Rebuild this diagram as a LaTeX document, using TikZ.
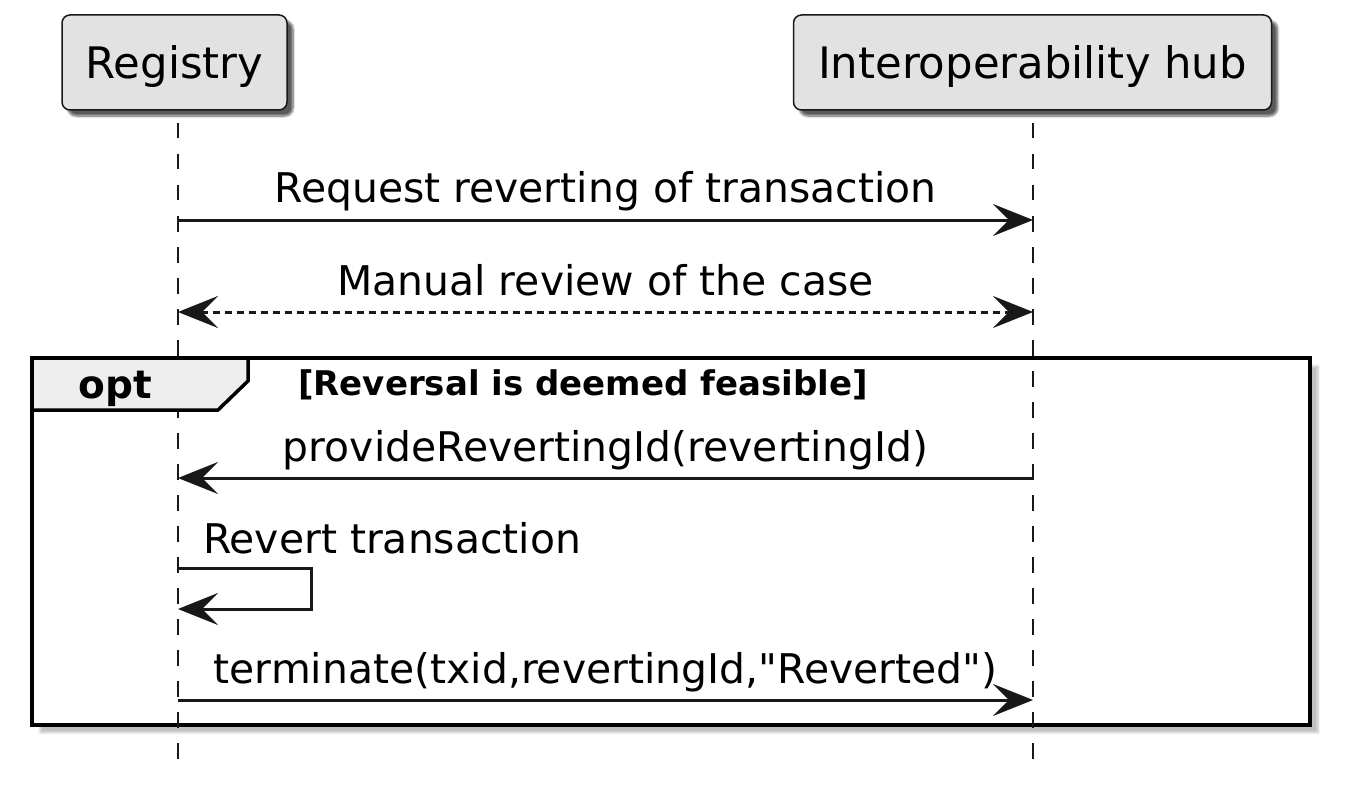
\documentclass[tikz,border=0pt]{standalone}
\usepackage{fontspec}
\setmainfont{DejaVu Sans}
\usepackage{tikz}
\usetikzlibrary{arrows.meta,positioning,shadows.blur}
\definecolor{linecol}{HTML}{181818}
\definecolor{boxfill}{HTML}{E2E2E2}
\definecolor{tabfill}{HTML}{EEEEEE}
\newcommand\dquote{\XeTeXglyph\XeTeXcharglyph"22\relax}
\tikzset{
  actor/.style={draw=linecol, fill=boxfill, line width=1.5pt, rounded corners=8pt,
    minimum height=95pt, inner sep=0pt, text height=40pt, text depth=7pt,
    font=\fontsize{43.4}{50}\selectfont,
    blur shadow={shadow xshift=6pt, shadow yshift=-6pt, shadow blur steps=8, shadow opacity=65}},
  lifeline/.style={draw=linecol, line width=1.5pt, dash pattern=on 15.5pt off 15.5pt},
  msg/.style={draw=linecol, line width=3pt,
    >={Stealth[length=40pt,width=32pt,inset=16pt]}},
  reply/.style={msg, dash pattern=on 7pt off 5pt},
  msgtext/.style={anchor=base, yshift=17pt, font=\fontsize{40.9}{48}\selectfont},
  frame/.style={draw=black, line width=4pt, fill=white,
    blur shadow={shadow xshift=8pt, shadow yshift=-8pt, shadow blur steps=6, shadow opacity=25}},
  opttab/.style={draw=black, line width=3.5pt, fill=tabfill},
}
\begin{document}
\begin{tikzpicture}[x=1pt,y=-1pt]
\useasboundingbox (0,0) rectangle (1345,797);
% participants
\node[actor, minimum width=225pt] (reg) at (174.5,62.5) {Registry};
\node[actor, minimum width=478pt] (hub) [right=505pt of reg] {Interoperability hub};
% opt frame
\draw[frame] (32,358) rectangle (1310,724.5);
% lifelines
\coordinate (reg_top) at (178,123);
\coordinate (reg_bot) at (178,765);
\coordinate (hub_top) at (1033,123);
\coordinate (hub_bot) at (1033,765);
\draw[lifeline] (reg_top) -- (reg_bot);
\draw[lifeline] (hub_top) -- (hub_bot);
\draw[opttab] (32,358) -- (248,358) -- (248,381) -- (218,410) -- (32,410) -- cycle;
\node[anchor=base, font=\fontsize{39}{46}\selectfont\bfseries] (opt) at (115.5,398) {opt};
\node[anchor=base west, inner sep=0pt, font=\fontsize{34}{40}\selectfont\bfseries] (guard) at (298,395) {[Reversal is deemed feasible]};
% messages
\coordinate (r1) at (178,220);  \coordinate (h1) at (1033,220);
\coordinate (r2) at (178,312);  \coordinate (h2) at (1033,312);
\coordinate (r3) at (178,478);  \coordinate (h3) at (1033,478);
\coordinate (s1) at (178,568);  \coordinate (s2) at (178,609);
\coordinate (r5) at (178,700);  \coordinate (h5) at (1033,700);
\draw[msg,->] (r1) -- node[msgtext] {Request reverting of transaction} (h1);
\draw[reply,<->] (r2) -- node[msgtext] {Manual review of the case} (h2);
\draw[msg,->] (h3) -- node[msgtext] {provideRevertingId(revertingId)} (r3);
\draw[msg,->] (s1) -- ++(133,0) |- (s2);
\node[anchor=base west, inner sep=0pt, font=\fontsize{40.9}{48}\selectfont] (self) at (203,553) {Revert transaction};
\draw[msg,->] (r5) -- node[msgtext] {terminate(txid,revertingId,\dquote Reverted\dquote)} (h5);
\end{tikzpicture}
\end{document}
